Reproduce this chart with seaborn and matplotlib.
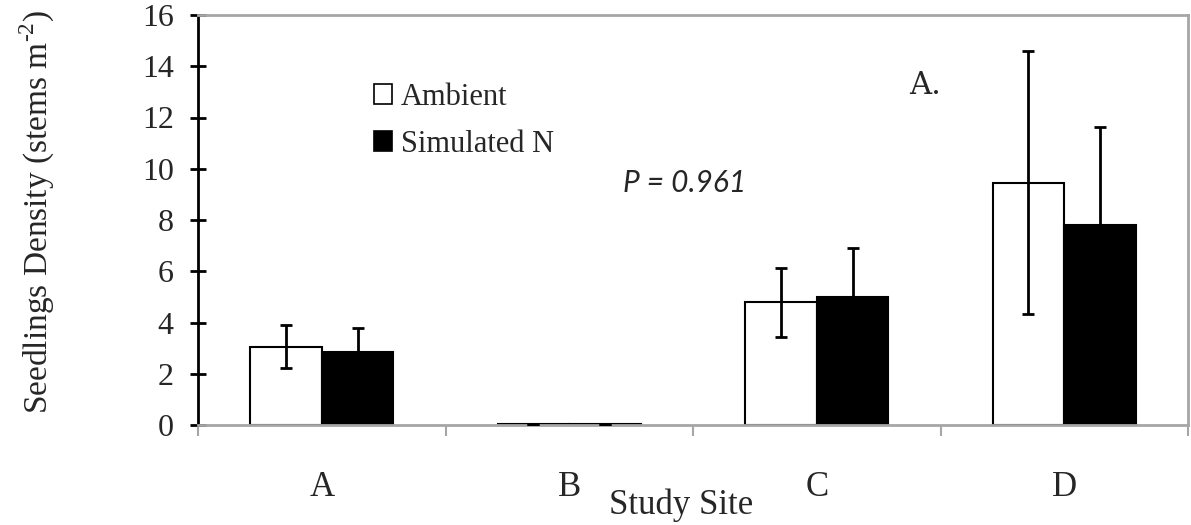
import numpy as np
import pandas as pd
import seaborn as sns
import matplotlib
matplotlib.use("Agg")
import matplotlib.pyplot as plt

# ---- data ----
sites = ["A", "B", "C", "D"]
treatments = ["Ambient", "Simulated N"]
ambient_mean = [3.05, 0.03, 4.79, 9.45]
ambient_err = [0.84, 0.02, 1.34, 5.13]
simulated_mean = [2.86, 0.03, 5.01, 7.79]
simulated_err = [0.92, 0.02, 1.90, 3.82]
y_ticks = [0, 2, 4, 6, 8, 10, 12, 14, 16]
p_text = "P = 0.961"
panel_text = "A."
x_label = "Study Site"
y_label = r"Seedlings Density (stems m$^{\text{-2}}$)"

df = pd.DataFrame({
    "site": sites * 2,
    "treatment": [treatments[0]] * len(sites) + [treatments[1]] * len(sites),
    "density": ambient_mean + simulated_mean,
})
errs = {treatments[0]: ambient_err, treatments[1]: simulated_err}

sns.set_style("white")
plt.rcParams["font.family"] = ["Liberation Serif", "DejaVu Serif"]
plt.rcParams["mathtext.fontset"] = "custom"
plt.rcParams["mathtext.rm"] = "Liberation Serif"

fig = plt.figure(figsize=(11.91, 5.25), dpi=100)
ax = fig.add_axes([198 / 1191, 100 / 525, 990 / 1191, 410 / 525])

sns.barplot(data=df, x="site", y="density", hue="treatment", order=sites,
            hue_order=treatments,
            palette={treatments[0]: "white", treatments[1]: "black"},
            edgecolor="black", linewidth=1.5, width=0.578, gap=0,
            saturation=1, errorbar=None, ax=ax)

# error bars at each bar's centre
for cont, t in zip(ax.containers, treatments):
    xs = [p.get_x() + p.get_width() / 2 for p in cont.patches]
    ys = [p.get_height() for p in cont.patches]
    ax.errorbar(xs, ys, yerr=errs[t], fmt="none", ecolor="black",
                elinewidth=2, capsize=4.5, capthick=2, zorder=5)

ax.set_xlim(-0.5, len(sites) - 0.5)
ax.set_ylim(0, 16)
ax.set_yticks(y_ticks)
ax.set_yticklabels([str(v) for v in y_ticks])

# spines
for s in ["top", "right", "bottom"]:
    ax.spines[s].set_color("#a6a6a6")
    ax.spines[s].set_linewidth(2)
ax.spines["left"].set_color("black")
ax.spines["left"].set_linewidth(2)

ax.tick_params(axis="y", direction="inout", length=11, width=2, color="black",
               labelsize=23, pad=12, left=True)
# x: labels at centers, ticks at boundaries
ax.set_xticks(range(len(sites)))
ax.set_xticklabels(sites)
ax.tick_params(axis="x", which="major", length=0, labelsize=25, pad=33)
ax.set_xticks(np.arange(-0.5, len(sites) + 0.5, 1), minor=True)
ax.tick_params(axis="x", which="minor", direction="out", length=8, width=1.5,
               color="#a6a6a6", bottom=True)

ax.set_xlabel("")
ax.set_ylabel(y_label, fontsize=24, labelpad=62)
ax.yaxis.set_label_coords(-0.142, 0.52)
fig.text(681 / 1191, 1 - 505 / 525, x_label, fontsize=25, ha="center", va="center")

# legend
leg = ax.legend(loc="upper left", bbox_to_anchor=(0.165, 0.865), frameon=False,
                fontsize=22, handlelength=0.6, handleheight=0.6,
                handletextpad=0.3, labelspacing=0.6, borderaxespad=0)
for h in leg.legend_handles:
    h.set_edgecolor("black")
    h.set_linewidth(1.2)

fig.text(925 / 1191, 1 - 85 / 525, panel_text, fontsize=22, ha="center",
         va="center", family=["DejaVu Serif"])
fig.text(685 / 1191, 1 - 183 / 525, p_text, fontsize=21.5, ha="center",
         va="center", style="italic", family=["Lato", "DejaVu Sans"])

fig.savefig("out.png", dpi=100)
